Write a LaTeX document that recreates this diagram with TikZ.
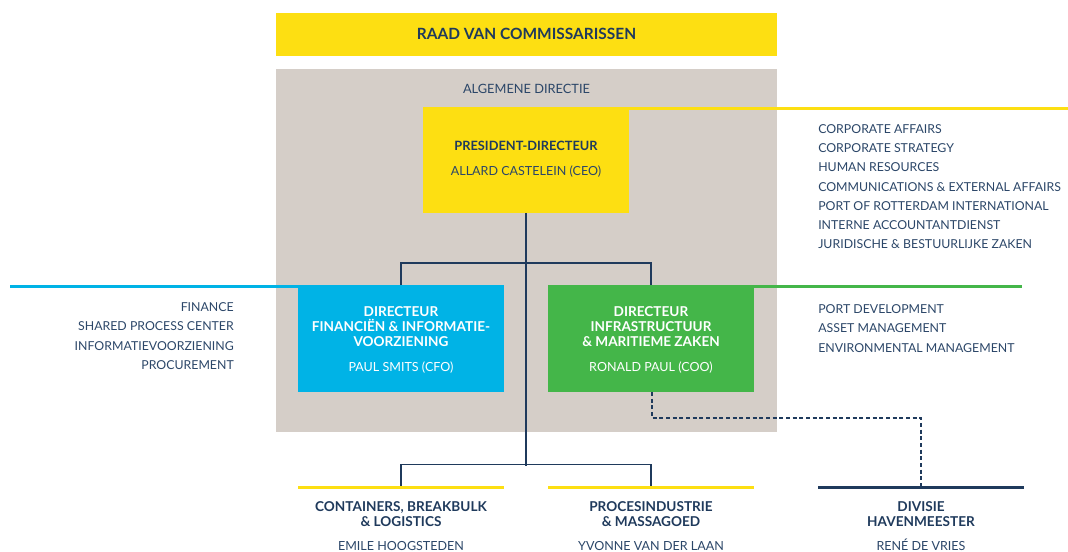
\documentclass[tikz,border=0pt]{standalone}
\usepackage{fontspec}
\setmainfont{Lato}
\definecolor{navy}{HTML}{1F3A5C}
\definecolor{ptext}{HTML}{2B4668}
\definecolor{pyellow}{HTML}{FDDF12}
\definecolor{pblue}{HTML}{00B3E6}
\definecolor{pgreen}{HTML}{44B649}
\definecolor{pgrey}{HTML}{D5CEC8}
\begin{document}
\begin{tikzpicture}[x=0.75pt,y=-0.75pt,
  box/.style={inner sep=0,outer sep=0,draw=none},
  txt/.style={inner sep=0,anchor=base,text=ptext,font=\fontsize{9.25}{11}\selectfont},
  btxt/.style={inner sep=0,anchor=base,text=navy,font=\fontsize{10.2}{12}\selectfont\bfseries},
  wtxt/.style={inner sep=0,anchor=base,text=white,font=\fontsize{9.4}{11}\selectfont},
  wbtxt/.style={inner sep=0,anchor=base,text=white,font=\fontsize{10.2}{12}\selectfont\bfseries},
  ltxt/.style={txt,anchor=base west},
  rtxt/.style={txt,anchor=base east},
  conn/.style={draw=navy,line width=0.9pt},
  dconn/.style={draw=navy,line width=0.9pt,dash pattern=on 3pt off 2pt},
  bar/.style={line width=2.2pt}]
\useasboundingbox (0,0) rectangle (1068,552);

% boxes
\node[box,fill=pyellow,minimum width=501*0.75pt,minimum height=43*0.75pt] (raad) at (526.5,34.5) {};
\node[box,fill=pgrey,minimum width=501*0.75pt,minimum height=363*0.75pt] (ad) at (526.5,250.5) {};
\node[box,fill=pyellow,minimum width=206*0.75pt,minimum height=106*0.75pt] (ceo) at (526,160) {};
\node[box,fill=pblue,minimum width=206*0.75pt,minimum height=107*0.75pt] (cfo) at (401,338.5) {};
\node[box,fill=pgreen,minimum width=206*0.75pt,minimum height=107*0.75pt] (coo) at (651,338.5) {};

% bottom bars
\node[box,fill=pyellow,minimum width=206*0.75pt,minimum height=3*0.75pt] (cbl) at (401,487) {};
\node[box,fill=pyellow,minimum width=206*0.75pt,minimum height=3*0.75pt] (pim) at (651,487) {};
\node[box,fill=navy,minimum width=206*0.75pt,minimum height=3*0.75pt] (hm) at (921,487) {};

% coloured lines
\coordinate (yend) at (1068,108.5);
\coordinate (bend) at (10,286.5);
\coordinate (gend) at (1022,286.5);
\draw[bar,pyellow] (ceo.north east) ++(0,1.5) -- (yend);
\draw[bar,pblue] (cfo.north west) ++(0,1.5) -- (bend);
\draw[bar,pgreen] (coo.north east) ++(0,1.5) -- (gend);

% connectors
\coordinate (j1) at (526,263);
\coordinate (j2) at (526,466);
\draw[conn] (ceo.south) -- (j1);
\draw[conn] (j1) -- (j2);
\draw[conn] (cfo.north) -- ++(0,-22) -| (coo.north);
\draw[conn] (cbl.north) -- ++(0,-21) -| (pim.north);
\coordinate (dk) at (652,418);
\draw[dconn] (coo.south -| dk) -- (dk) -| (hm.north);

% texts
\node[btxt,font=\fontsize{11.6}{13}\selectfont\bfseries] (traad) at (526.5,40) {RAAD VAN COMMISSARISSEN};
\node[txt,font=\fontsize{9.6}{11}\selectfont] (tad) at (526.5,93.5) {ALGEMENE DIRECTIE};
\node[btxt,font=\fontsize{9.6}{11}\selectfont\bfseries] (tceo1) at (526,150.5) {PRESIDENT-DIRECTEUR};
\node[txt,font=\fontsize{9.4}{11}\selectfont] (tceo2) at (526,175.5) {ALLARD CASTELEIN (CEO)};

\node[wbtxt] (tcfo1) at (401,316.5) {DIRECTEUR};
\node[wbtxt] (tcfo2) at (401,331.5) {FINANCIËN \& INFORMATIE-};
\node[wbtxt] (tcfo3) at (401,346.5) {VOORZIENING};
\node[wtxt] (tcfo4) at (401,371.5) {PAUL SMITS (CFO)};

\node[wbtxt] (tcoo1) at (651,316.5) {DIRECTEUR};
\node[wbtxt] (tcoo2) at (651,331.5) {INFRASTRUCTUUR};
\node[wbtxt] (tcoo3) at (651,346.5) {\& MARITIEME ZAKEN};
\node[wtxt] (tcoo4) at (651,371.5) {RONALD PAUL (COO)};

\foreach \t [count=\i] in {CORPORATE AFFAIRS,CORPORATE STRATEGY,HUMAN RESOURCES,COMMUNICATIONS \& EXTERNAL AFFAIRS,PORT OF ROTTERDAM INTERNATIONAL,INTERNE ACCOUNTANTDIENST,JURIDISCHE \& BESTUURLIJKE ZAKEN}
  \node[ltxt] (ra\i) at ({818},{133.5+19.2*(\i-1)}) {\t};

\foreach \t [count=\i] in {FINANCE,SHARED PROCESS CENTER,INFORMATIEVOORZIENING,PROCUREMENT}
  \node[rtxt] (la\i) at ({234},{311.5+19.3*(\i-1)}) {\t};

\foreach \t [count=\i] in {PORT DEVELOPMENT,ASSET MANAGEMENT,ENVIRONMENTAL MANAGEMENT}
  \node[ltxt] (ga\i) at ({818},{313.5+19.3*(\i-1)}) {\t};

\node[btxt] (tcbl1) at (401,511.5) {CONTAINERS, BREAKBULK};
\node[btxt] (tcbl2) at (401,526.5) {\& LOGISTICS};
\node[txt,font=\fontsize{9.4}{11}\selectfont] (tcbl3) at (401,550.5) {EMILE HOOGSTEDEN};
\node[btxt] (tpim1) at (651,511.5) {PROCESINDUSTRIE};
\node[btxt] (tpim2) at (651,526.5) {\& MASSAGOED};
\node[txt,font=\fontsize{9.4}{11}\selectfont] (tpim3) at (651,550.5) {YVONNE VAN DER LAAN};
\node[btxt] (thm1) at (921,511.5) {DIVISIE};
\node[btxt] (thm2) at (921,526.5) {HAVENMEESTER};
\node[txt,font=\fontsize{9.4}{11}\selectfont] (thm3) at (921,550.5) {RENÉ DE VRIES};
\end{tikzpicture}
\end{document}
